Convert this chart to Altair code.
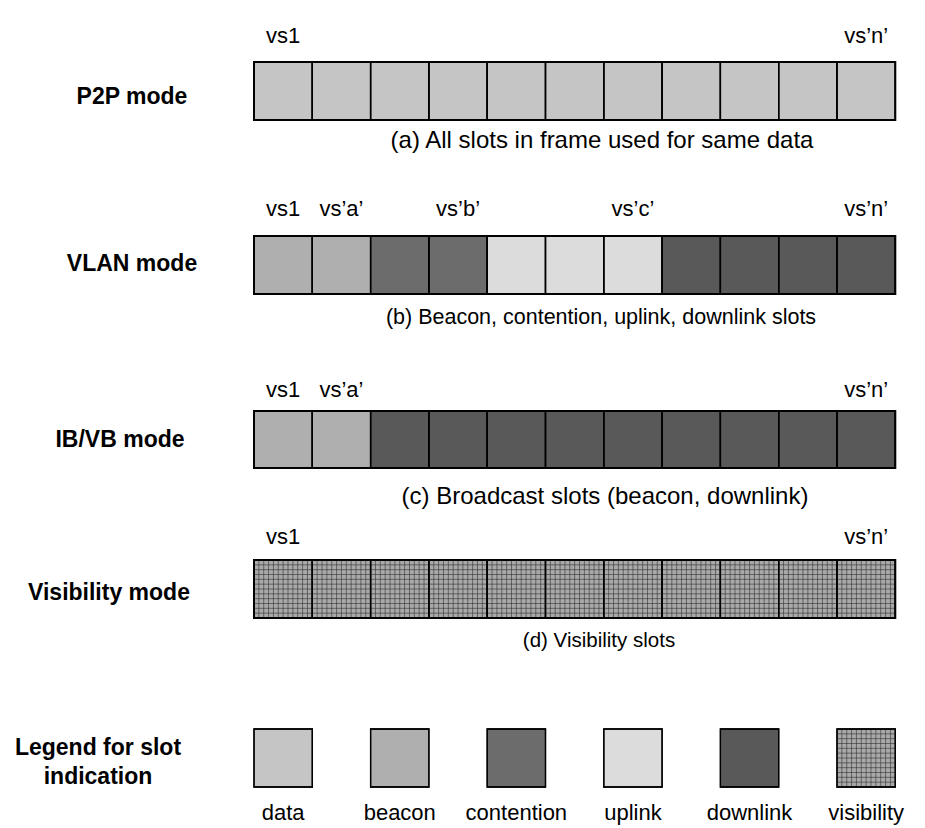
import altair as alt
import pandas as pd

# ---------------- data ----------------
mode_names = ["P2P mode", "VLAN mode", "IB/VB mode", "Visibility mode"]

p2p_slots = ["data", "data", "data", "data", "data", "data",
             "data", "data", "data", "data", "data"]
vlan_slots = ["beacon", "beacon", "contention", "contention", "uplink", "uplink",
              "uplink", "downlink", "downlink", "downlink", "downlink"]
ibvb_slots = ["beacon", "beacon", "downlink", "downlink", "downlink", "downlink",
              "downlink", "downlink", "downlink", "downlink", "downlink"]
vis_slots = ["visibility", "visibility", "visibility", "visibility", "visibility",
             "visibility", "visibility", "visibility", "visibility", "visibility",
             "visibility"]

p2p_marks = [(0, "vs1"), (10, "vs\u2019n\u2019")]
vlan_marks = [(0, "vs1"), (1, "vs\u2019a\u2019"), (3, "vs\u2019b\u2019"),
              (6, "vs\u2019c\u2019"), (10, "vs\u2019n\u2019")]
ibvb_marks = [(0, "vs1"), (1, "vs\u2019a\u2019"), (10, "vs\u2019n\u2019")]
vis_marks = [(0, "vs1"), (10, "vs\u2019n\u2019")]

captions = ["(a) All slots in frame used for same data",
            "(b) Beacon, contention, uplink, downlink slots",
            "(c)  Broadcast slots (beacon, downlink)",
            "(d) Visibility slots"]

legend_types = ["data", "beacon", "contention", "uplink", "downlink", "visibility"]
legend_slot_pos = [0, 2, 4, 6, 8, 10]
legend_title = ["Legend for slot", "indication"]

# ---------------- layout (page pixels) ----------------
MARGIN = 8
W, H = 909, 820
X0, SLOT_W = 254.0, 58.3

def px_to_slot(px):
    return (px - X0) / SLOT_W

rows_layout = [
    dict(label_y=36, top=62, bot=120, mode_x=132, mode_y=97, cap_x=602, cap_y=141, cap_size=24),
    dict(label_y=209, top=236, bot=294, mode_x=132, mode_y=264, cap_x=601, cap_y=318, cap_size=21.5),
    dict(label_y=390, top=411, bot=468, mode_x=120, mode_y=440, cap_x=605, cap_y=497, cap_size=24),
    dict(label_y=537, top=560, bot=618, mode_x=109, mode_y=593, cap_x=599, cap_y=641, cap_size=20.5),
]
legend_layout = dict(top=729, bot=787, text_y=813, title_x=98, title_y=[748, 777])

colors = ["#c5c5c5", "#afafaf", "#6c6c6c", "#dcdcdc", "#595959", "#a9a9a9"]

slot_lists = [p2p_slots, vlan_slots, ibvb_slots, vis_slots]
mark_lists = [p2p_marks, vlan_marks, ibvb_marks, vis_marks]

# ---------------- tables ----------------
cells, outlines, slot_labels, mode_labels, cap_labels = [], [], [], [], []
for r, (slots, marks, lay) in enumerate(zip(slot_lists, mark_lists, rows_layout)):
    for i, t in enumerate(slots):
        cells.append(dict(x=i, x2=i + 1, y=lay["top"], y2=lay["bot"], type=t))
    outlines.append(dict(x=0, x2=len(slots), y=lay["top"], y2=lay["bot"]))
    for i, lab in marks:
        slot_labels.append(dict(x=i + 0.5, y=lay["label_y"], text=lab))
    mode_labels.append(dict(x=px_to_slot(lay["mode_x"]), y=lay["mode_y"], text=mode_names[r]))
    cap_labels.append(dict(x=px_to_slot(lay["cap_x"]), y=lay["cap_y"], text=captions[r],
                           size=lay["cap_size"]))

legend_cells, legend_texts = [], []
for t, s in zip(legend_types, legend_slot_pos):
    legend_cells.append(dict(x=s, x2=s + 1, y=legend_layout["top"], y2=legend_layout["bot"], type=t))
    legend_texts.append(dict(x=s + 0.5, y=legend_layout["text_y"], text=t))
for line, yy in zip(legend_title, legend_layout["title_y"]):
    mode_labels.append(dict(x=px_to_slot(legend_layout["title_x"]), y=yy, text=line))

# visibility grid texture (style only)
grid_v, grid_h = [], []
vis_boxes = [(0, 11, rows_layout[3]["top"], rows_layout[3]["bot"]),
             (10, 11, legend_layout["top"], legend_layout["bot"])]
NSUB = 12
for x_a, x_b, y_a, y_b in vis_boxes:
    for k in range((x_b - x_a) * NSUB):
        if k % NSUB:
            grid_v.append(dict(x=x_a + k / NSUB, y=y_a, y2=y_b))
    for k in range(1, NSUB):
        grid_h.append(dict(x=x_a, x2=x_b, y=y_a + (y_b - y_a) * k / NSUB))

xs = alt.Scale(domain=[px_to_slot(MARGIN), px_to_slot(MARGIN + W)], nice=False, zero=False)
ys = alt.Scale(domain=[MARGIN, MARGIN + H], reverse=True, nice=False, zero=False)

X = lambda f: alt.X(f, type="quantitative", scale=xs, axis=None)
Y = lambda f: alt.Y(f, type="quantitative", scale=ys, axis=None)

color = alt.Color("type:N", scale=alt.Scale(domain=legend_types, range=colors), legend=None)

cell_layer = alt.Chart(pd.DataFrame(cells + legend_cells)).mark_rect(
    stroke="black", strokeWidth=1.3
).encode(x=X("x"), x2="x2", y=Y("y"), y2="y2", color=color)

gv = alt.Chart(pd.DataFrame(grid_v)).mark_rule(color="#2a2a2a", strokeWidth=0.8, opacity=0.7).encode(
    x=X("x"), y=Y("y"), y2="y2")
gh = alt.Chart(pd.DataFrame(grid_h)).mark_rule(color="#2a2a2a", strokeWidth=0.8, opacity=0.7).encode(
    x=X("x"), x2="x2", y=Y("y"))

border_layer = alt.Chart(pd.DataFrame(cells + legend_cells)).mark_rect(
    fill=None, stroke="black", strokeWidth=1.3
).encode(x=X("x"), x2="x2", y=Y("y"), y2="y2")

outline_layer = alt.Chart(pd.DataFrame(outlines)).mark_rect(
    fill=None, stroke="black", strokeWidth=2
).encode(x=X("x"), x2="x2", y=Y("y"), y2="y2")

FONT = "Liberation Sans"
txt = lambda df, **kw: alt.Chart(pd.DataFrame(df)).mark_text(
    font=FONT, baseline="middle", align="center", color="black", **kw
).encode(x=X("x"), y=Y("y"), text="text:N")

cap_layer = alt.Chart(pd.DataFrame(cap_labels)).mark_text(
    font=FONT, baseline="middle", align="center", color="black"
).encode(x=X("x"), y=Y("y"), text="text:N",
         size=alt.Size("size:Q", scale=None, legend=None))

chart = alt.layer(
    cell_layer, gv, gh, border_layer, outline_layer,
    txt(slot_labels, fontSize=22),
    cap_layer,
    txt(legend_texts, fontSize=22),
    txt(mode_labels, fontSize=23, fontWeight="bold"),
).properties(
    width=W, height=H, autosize=alt.AutoSizeParams(type="none"), padding=0
).configure_view(stroke=None)

chart.save("out.html", embed_options={"renderer": "svg", "actions": False})
